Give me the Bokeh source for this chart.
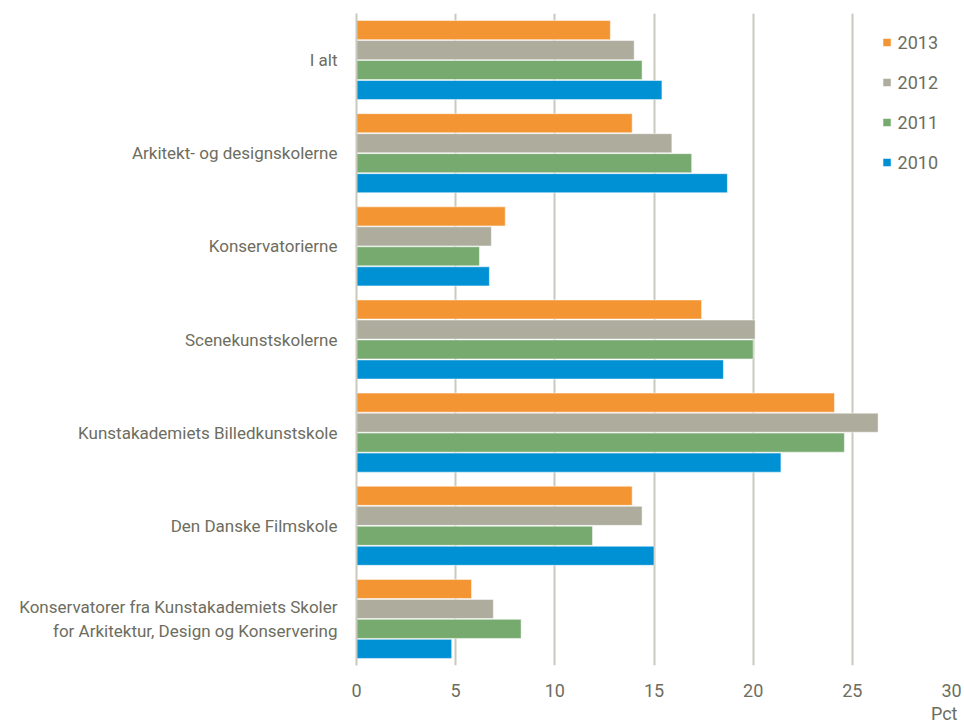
from bokeh.plotting import figure
from bokeh.models import Range1d, FixedTicker, Legend, LegendItem, Title, ColumnDataSource
from bokeh.embed import file_html
from bokeh.resources import INLINE

categories = [
    "I alt",
    "Arkitekt- og designskolerne",
    "Konservatorierne",
    "Scenekunstskolerne",
    "Kunstakademiets Billedkunstskole",
    "Den Danske Filmskole",
    "Konservatorer fra Kunstakademiets Skoler\nfor Arkitektur, Design og Konservering",
]
series_names = ["2013", "2012", "2011", "2010"]
v2013 = [12.8, 13.9, 7.5, 17.4, 24.1, 13.9, 5.8]
v2012 = [14.0, 15.9, 6.8, 20.1, 26.3, 14.4, 6.9]
v2011 = [14.4, 16.9, 6.2, 20.0, 24.6, 11.9, 8.3]
v2010 = [15.4, 18.7, 6.7, 18.5, 21.4, 15.0, 4.8]
x_ticks = [0, 5, 10, 15, 20, 25, 30]
x_unit = "Pct"

colors = ["#F39533", "#ADAC9D", "#77AA6F", "#0090D4"]
offsets = [-0.322, -0.107, 0.107, 0.322]
bar_h = 0.205
FONT = "Roboto"
TXT = "#6d6d60"
GRID = "#c9c9bd"

p = figure(width=964, height=724, output_backend="svg", toolbar_location=None,
           x_range=Range1d(0, 30), y_range=Range1d(7, 0),
           min_border_left=356, min_border_right=13, min_border_top=13, min_border_bottom=58)
p.outline_line_color = None

values = [v2013, v2012, v2011, v2010]
renderers = []
for name, vals, col, off in zip(series_names, values, colors, offsets):
    src = ColumnDataSource(dict(y=[i + 0.5 + off for i in range(len(categories))], right=vals))
    r = p.hbar(y="y", left=0, right="right", height=bar_h, source=src,
               fill_color=col, line_color="white", line_width=1, line_alpha=0.5)
    renderers.append((name, r))

# x axis
p.xaxis.ticker = FixedTicker(ticks=x_ticks)
p.xaxis.axis_line_color = None
p.xaxis.major_tick_line_color = None
p.xaxis.minor_tick_line_color = None
p.xaxis.major_label_standoff = 12
p.xaxis.major_label_text_font = FONT
p.xaxis.major_label_text_font_size = "18px"
p.xaxis.major_label_text_color = TXT

# y axis
p.yaxis.ticker = FixedTicker(ticks=[i + 0.5 for i in range(len(categories))])
p.yaxis.major_label_overrides = {i + 0.5: c for i, c in enumerate(categories)}
p.yaxis.axis_line_color = GRID
p.yaxis.axis_line_width = 2
p.yaxis.major_tick_line_color = None
p.yaxis.minor_tick_line_color = None
p.yaxis.major_label_standoff = 13
p.yaxis.major_label_text_font = FONT
p.yaxis.major_label_text_font_size = "17px"
p.yaxis.major_label_text_color = TXT

p.xgrid.ticker = FixedTicker(ticks=x_ticks)
p.xgrid.grid_line_color = GRID
p.xgrid.grid_line_width = 2
p.ygrid.grid_line_color = None

legend = Legend(items=[LegendItem(label=n, renderers=[r]) for n, r in renderers],
                location="top_right")
legend.glyph_width = 10
legend.glyph_height = 10
legend.label_standoff = 6
legend.label_height = 32
legend.spacing = 8
legend.margin = 13
legend.padding = 10
legend.border_line_color = None
legend.background_fill_alpha = 0
legend.label_text_font = FONT
legend.label_text_font_size = "18px"
legend.label_text_color = TXT
p.add_layout(legend)

unit_title = Title(text=x_unit, align="right", standoff=2, offset=-6,
                   text_font=FONT, text_font_size="18px", text_font_style="normal",
                   text_color=TXT)
p.add_layout(unit_title, "below")

open("out.html", "w").write(file_html(p, INLINE))
